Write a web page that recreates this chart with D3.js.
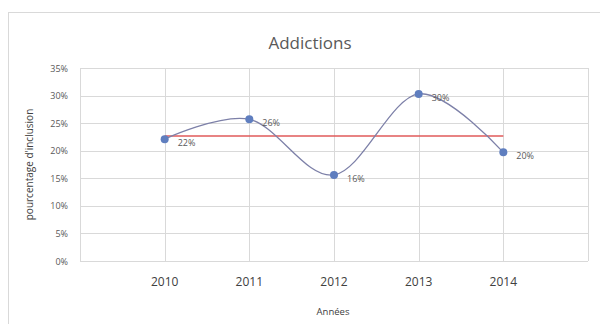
<!DOCTYPE html>
<html><head><meta charset="utf-8">
<script src="https://cdn.jsdelivr.net/npm/d3@7"></script>
<style>body{margin:0;background:#fff;} svg{display:block;font-family:"Open Sans","Liberation Sans",sans-serif;}</style>
</head><body>
<svg id="c" width="600" height="324"></svg>
<script>
const years = [2010, 2011, 2012, 2013, 2014];
const values = [0.221, 0.257, 0.156, 0.303, 0.197];
const yTicks = [0, 0.05, 0.10, 0.15, 0.20, 0.25, 0.30, 0.35];
const title = "Addictions";
const xTitle = "Années";
const yTitle = "pourcentage d'inclusion";

const svg = d3.select("#c");
svg.append("rect").attr("x", 8.5).attr("y", 12.5).attr("width", 600).attr("height", 320)
  .attr("fill", "#fff").attr("stroke", "#d9d9d9").attr("stroke-width", 1);

const L = 80, R = 588, T = 68, B = 261;
const x = d3.scaleLinear().domain([2009, 2015]).range([L, R]);
const y = d3.scaleLinear().domain([0, 0.35]).range([B, T]);

// horizontal gridlines
svg.append("g").selectAll("line").data(yTicks).join("line")
  .attr("x1", L).attr("x2", R)
  .attr("y1", d => Math.round(y(d)) + 0.5).attr("y2", d => Math.round(y(d)) + 0.5)
  .attr("stroke", "#d9d9d9").attr("stroke-width", 1);
// vertical gridlines
svg.append("g").selectAll("line").data([2009, ...years, 2015]).join("line")
  .attr("x1", d => Math.round(x(d)) + 0.5).attr("x2", d => Math.round(x(d)) + 0.5)
  .attr("y1", T).attr("y2", B)
  .attr("stroke", "#d9d9d9").attr("stroke-width", 1);

// y tick labels
const fmt = d3.format(".0%");
svg.append("g").selectAll("text").data(yTicks).join("text")
  .attr("x", 68).attr("y", d => y(d) + 3.5).attr("text-anchor", "end")
  .attr("font-size", 9).attr("fill", "#595959").text(d => fmt(d));

// x tick labels
svg.append("g").selectAll("text").data(years).join("text")
  .attr("x", d => x(d)).attr("y", 286).attr("text-anchor", "middle")
  .attr("font-size", 12).attr("fill", "#404040").text(d => d);

// titles
svg.append("text").attr("x", 310).attr("y", 49).attr("text-anchor", "middle")
  .attr("font-size", 17).attr("fill", "#595959").text(title);
svg.append("text").attr("x", 333).attr("y", 315).attr("text-anchor", "middle")
  .attr("font-size", 9.5).attr("fill", "#404040").text(xTitle);
svg.append("text").attr("transform", `translate(33,${(T + B) / 2}) rotate(-90)`)
  .attr("text-anchor", "middle").attr("font-size", 10).attr("fill", "#404040").text(yTitle);

// average line
const mean = d3.mean(values);
svg.append("line").attr("x1", x(years[0])).attr("x2", x(years[years.length - 1]))
  .attr("y1", y(mean)).attr("y2", y(mean))
  .attr("stroke", "#e05a5a").attr("stroke-width", 1.5);

// smooth line
const data = years.map((yr, i) => ({ yr, v: values[i] }));
svg.append("path").datum(data)
  .attr("d", d3.line().x(d => x(d.yr)).y(d => y(d.v)).curve(d3.curveCardinal.tension(0)))
  .attr("fill", "none").attr("stroke", "#7d80a8").attr("stroke-width", 1.3);

// points
svg.append("g").selectAll("circle").data(data).join("circle")
  .attr("cx", d => x(d.yr)).attr("cy", d => y(d.v)).attr("r", 4)
  .attr("fill", "#5f7ebf");

// data labels
svg.append("g").selectAll("text").data(data).join("text")
  .attr("x", d => x(d.yr) + 13).attr("y", d => y(d.v) + 7)
  .attr("font-size", 9).attr("fill", "#595959").text(d => fmt(d.v));
</script>
</body></html>
